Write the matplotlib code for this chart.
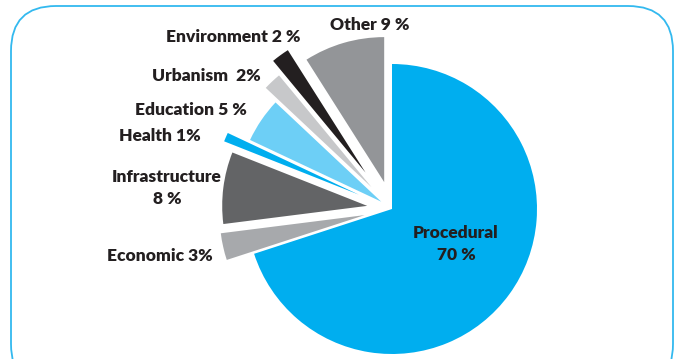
#!/usr/bin/env python3
"""Exploded pie chart of topics, saved as out.png."""

import matplotlib.pyplot as plt
from matplotlib.patches import FancyBboxPatch

# data (counterclockwise from 12 o'clock)
categories = ["Other", "Environment", "Urbanism", "Education", "Health",
              "Infrastructure", "Economic", "Procedural"]
shares = [9, 2, 2, 5, 1, 8, 3, 70]
labels = ["Other 9 %", "Environment 2 %", "Urbanism  2%", "Education 5 %",
          "Health 1%", "Infrastructure\n8 %", "Economic 3%", "Procedural\n70 %"]

# style (explode is in pixels here: pie offsets by explode, not explode*radius)
colors = ["#939598", "#231F20", "#C7C8CA", "#6DCFF6", "#00AEEF",
          "#636466", "#A7A9AC", "#00AEEF"]
explode = [28, 45, 30, 13, 36, 25, 28, 0]
label_pos = [(370, 334), (233, 322), (206, 283), (191, 249), (160, 223),
             (167, 171), (160, 103), (456, 115)]

W, H = 678, 359
fig = plt.figure(figsize=(W / 100, H / 100), dpi=100)
ax = fig.add_axes([0, 0, 1, 1])

ax.pie(shares, explode=explode, colors=colors, startangle=90,
       counterclock=True, center=(392, 150), radius=145, frame=True,
       wedgeprops=dict(linewidth=0))

border = FancyBboxPatch((11, -30), 662, 383,
                        boxstyle="round,pad=0,rounding_size=45",
                        facecolor="none", edgecolor="#33B9EF", linewidth=1.3)
ax.add_patch(border)

for text, (x, y) in zip(labels, label_pos):
    ax.text(x, y, text, ha="center", va="center", fontsize=12.5,
            fontweight="heavy", family="Lato", color="#231F20",
            linespacing=1.5)

ax.set_xlim(0, W)
ax.set_ylim(0, H)
ax.set_aspect("equal")
ax.axis("off")

fig.savefig("out.png", dpi=100)
